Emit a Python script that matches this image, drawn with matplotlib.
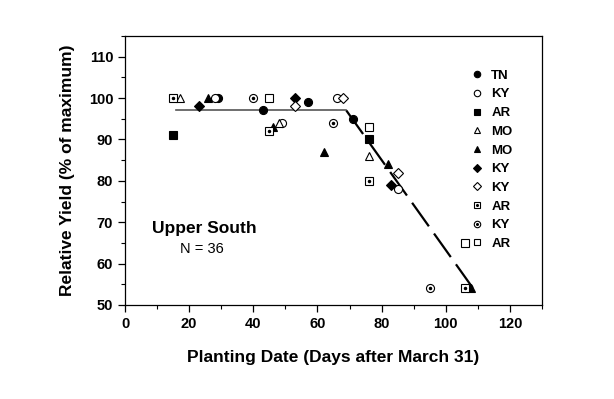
import matplotlib
matplotlib.use("Agg")
import matplotlib.pyplot as plt
from matplotlib.ticker import MultipleLocator

plt.rcParams["font.family"] = ["Liberation Sans", "DejaVu Sans"]

# data: (planting day, relative yield)
tn_fill_circle_x = [29, 43, 57, 71]
tn_fill_circle_y = [100, 97, 99, 95]
ky_open_circle_x = [28, 49, 66, 85]
ky_open_circle_y = [100, 94, 100, 78]
ar_fill_square_x = [15, 76]
ar_fill_square_y = [91, 90]
mo_open_tri_x = [17, 48, 76]
mo_open_tri_y = [100, 94, 86]
mo_fill_tri_x = [26, 46, 62, 82, 108]
mo_fill_tri_y = [100, 93, 87, 84, 54]
ky_fill_diamond_x = [23, 53, 83]
ky_fill_diamond_y = [98, 100, 79]
ky_open_diamond_x = [53, 68, 85]
ky_open_diamond_y = [98, 100, 82]
ar_dot_square_x = [15, 45, 76, 106]
ar_dot_square_y = [100, 92, 80, 54]
ky_dot_circle_x = [40, 65, 95]
ky_dot_circle_y = [100, 94, 54]
ar_open_square_x = [45, 76, 106]
ar_open_square_y = [100, 93, 65]

# fitted plateau + linear decline
plateau_x = [16, 69]
plateau_y = [97, 97]
decline_x = [69, 109]
decline_y = [97, 53.5]


def main() -> None:
    fig = plt.figure(figsize=(6.14, 3.99), dpi=100)
    ax = fig.add_axes([0.2036, 0.2356, 0.6791, 0.6742])

    ax.plot(plateau_x, plateau_y, color="#555555", linewidth=1.2, zorder=1)
    ax.plot(decline_x, decline_y, color="black", linewidth=1.6,
            dashes=(13, 4), zorder=1)

    handles = []
    labels = []

    def series(x, y, marker, filled, label, dot=False, ms=5.8):
        face = "black" if filled else "white"
        h, = ax.plot(x, y, linestyle="none", marker=marker, markersize=ms,
                     markerfacecolor=face, markeredgecolor="black",
                     markeredgewidth=0.8, zorder=3)
        if dot:
            d, = ax.plot(x, y, linestyle="none", marker="o", markersize=1.5,
                         color="black", zorder=4)
            handles.append((h, d))
        else:
            handles.append(h)
        labels.append(label)

    series(tn_fill_circle_x, tn_fill_circle_y, "o", True, "TN")
    series(ky_open_circle_x, ky_open_circle_y, "o", False, "KY")
    series(ar_fill_square_x, ar_fill_square_y, "s", True, "AR", ms=5.4)
    series(mo_open_tri_x, mo_open_tri_y, "^", False, "MO")
    series(mo_fill_tri_x, mo_fill_tri_y, "^", True, "MO")
    series(ky_fill_diamond_x, ky_fill_diamond_y, "D", True, "KY", ms=5)
    series(ky_open_diamond_x, ky_open_diamond_y, "D", False, "KY", ms=5)
    series(ar_dot_square_x, ar_dot_square_y, "s", False, "AR", dot=True, ms=5.4)
    series(ky_dot_circle_x, ky_dot_circle_y, "o", False, "KY", dot=True)
    series(ar_open_square_x, ar_open_square_y, "s", False, "AR", ms=5.4)

    ax.legend(handles, labels, loc="upper left", bbox_to_anchor=(0.812, 0.90),
              frameon=False, handlelength=1.0, handletextpad=0.6,
              labelspacing=0.49, borderpad=0, markerscale=0.8,
              prop={"size": 9.5, "weight": "bold"})

    ax.set_xlim(0, 130)
    ax.set_ylim(50, 115)
    ax.set_xticks(range(0, 121, 20))
    ax.set_yticks(range(50, 111, 10))
    ax.xaxis.set_minor_locator(MultipleLocator(10))
    ax.yaxis.set_minor_locator(MultipleLocator(5))
    ax.tick_params(which="major", direction="out", length=5, width=0.9,
                   labelsize=10.5, top=False, right=False)
    ax.tick_params(which="minor", direction="out", length=3, width=0.8,
                   top=False, right=False)
    for lab in ax.get_xticklabels() + ax.get_yticklabels():
        lab.set_fontweight("bold")
    for s in ax.spines.values():
        s.set_linewidth(0.9)

    ax.set_xlabel("Planting Date (Days after March 31)", fontsize=12.5,
                  fontweight="bold", labelpad=14)
    ax.set_ylabel("Relative Yield (% of maximum)", fontsize=12.5,
                  fontweight="bold", labelpad=10)

    ax.text(8.3, 67.5, "Upper South", fontsize=12.5, fontweight="bold")
    ax.text(17, 62.5, "N = 36", fontsize=10.5)

    fig.savefig("out.png", dpi=100)


if __name__ == "__main__":
    main()
